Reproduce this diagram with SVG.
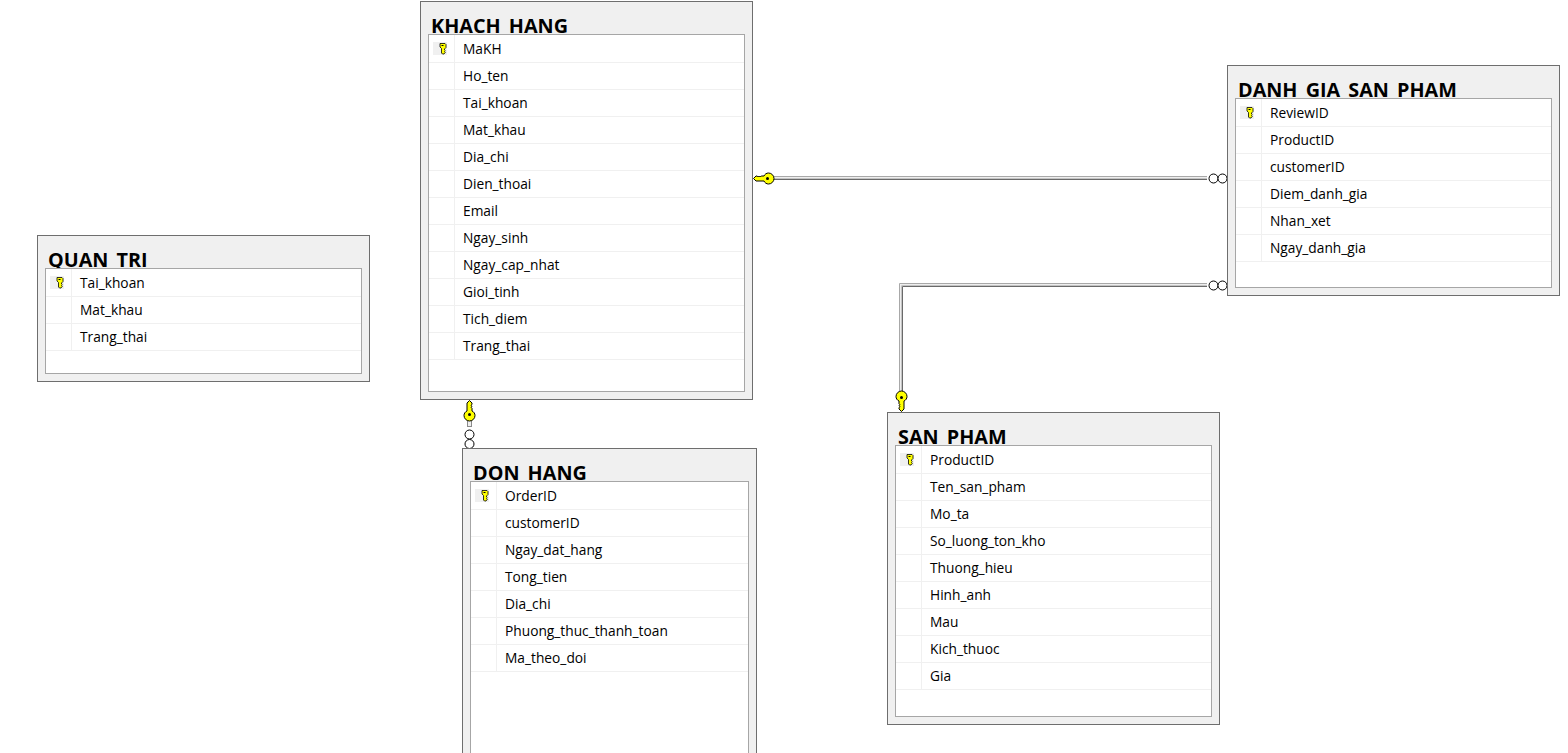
<svg xmlns="http://www.w3.org/2000/svg" width="1568" height="753" viewBox="0 0 1568 753">
<style>
.outer{fill:#f0f0f0;stroke:#6e6e6e;stroke-width:1}
.inner{fill:#fff;stroke:#a6a6a6;stroke-width:1}
.title{font:bold 19.800px "Open Sans","Noto Sans",sans-serif;fill:#000}
.row{font:13.750px "Open Sans","Noto Sans",sans-serif;fill:#000}
.grid{stroke:#f0f0f0;stroke-width:1;fill:none}
.sel{fill:#f0f0f0}
.ring{fill:#fff;stroke:#000;stroke-width:1}
.l1{stroke:#a8a8a8;fill:none}.l2{stroke:#eeeeee;fill:none}.l3{stroke:#c4c4c4;fill:none}.l4{stroke:#6a6a6a;fill:none}
.bigkey{fill:#ffff00;stroke:#000;stroke-width:1}
.smallkey{fill:#ffff00;stroke:#000;stroke-width:.8}
</style>
<defs>
<g id="pk"><path class="smallkey" d="M-2.500-5.500h5l1 1v3l-1.500 1.500v1l.8.700-.8.800.8.800-1.300 1.700h-1.500l-1-1v-4.500l-1.500-1.500v-3z"/><path d="M-1-4h2v1h-2z" fill="#000"/></g>
<g id="fk"><path class="bigkey" d="M-2.500-4.500V-11.500L0-14l2.500 2.500v1.200l-1 1 1 1-1 1 1 1v2.800c1.800.8 3 2.500 3 4.500 0 3-2.500 5.500-5.500 5.500s-5.500-2.500-5.500-5.500c0-2 1.200-3.700 3-4.500z"/><circle r="1.500" fill="#000"/></g>
</defs>
<rect width="1568" height="753" fill="#fff"/>
<g id="connectors">
<g id="conn-khach-danhgia">
<path class="l1" d="M772 176.500H1207"/><path class="l2" d="M772 177.500H1207"/><path class="l3" d="M772 178.500H1207"/><path class="l4" d="M772 179.500H1207"/>
<circle class="ring" cx="1213.500" cy="178.500" r="4.500"/><circle class="ring" cx="1222.500" cy="178.500" r="4.500"/>
<use href="#fk" transform="translate(767.500 178.500) rotate(-90)"/>
</g>
<g id="conn-sanpham-danhgia">
<path class="l1" d="M899.500 392V283.500H1207"/><path class="l2" d="M900.500 392V284.500H1207"/><path class="l3" d="M901.500 392V285.500H1207"/><path class="l4" d="M902.500 392V286.500H1207"/>
<circle class="ring" cx="1213.500" cy="285.500" r="4.500"/><circle class="ring" cx="1222.500" cy="285.500" r="4.500"/>
<use href="#fk" transform="translate(901.500 397.500) rotate(180)"/>
</g>
<g id="conn-khach-donhang">
<rect x="467.500" y="420.500" width="4" height="6" fill="#eee" stroke="#8a8a8a"/>
<circle class="ring" cx="469.500" cy="434.500" r="4.500"/><circle class="ring" cx="469.500" cy="444" r="4.500"/>
<use href="#fk" transform="translate(469.500 414.500)"/>
</g>
</g>
<g id="quan-tri">
<rect class="outer" x="37.500" y="235.500" width="332" height="146"/>
<text class="title" x="48" y="267">QUAN_TRI</text>
<rect class="inner" x="45.500" y="268.500" width="316" height="105"/>
<path class="grid" d="M46 296.500H361M46 323.500H361M46 350.500H361M71.500 269V350"/>
<rect class="sel" x="50" y="276" width="14" height="13"/>
<use href="#pk" x="59.500" y="283"/>
<text class="row" x="80" y="288">Tai_khoan</text>
<text class="row" x="80" y="315">Mat_khau</text>
<text class="row" x="80" y="342">Trang_thai</text>
</g>
<g id="khach-hang">
<rect class="outer" x="420.500" y="1.500" width="332" height="398"/>
<text class="title" x="431" y="33">KHACH_HANG</text>
<rect class="inner" x="428.500" y="34.500" width="316" height="357"/>
<path class="grid" d="M429 62.500H744M429 89.500H744M429 116.500H744M429 143.500H744M429 170.500H744M429 197.500H744M429 224.500H744M429 251.500H744M429 278.500H744M429 305.500H744M429 332.500H744M429 359.500H744M454.500 35V359"/>
<rect class="sel" x="433" y="42" width="14" height="13"/>
<use href="#pk" x="442.500" y="49"/>
<text class="row" x="463" y="54">MaKH</text>
<text class="row" x="463" y="81">Ho_ten</text>
<text class="row" x="463" y="108">Tai_khoan</text>
<text class="row" x="463" y="135">Mat_khau</text>
<text class="row" x="463" y="162">Dia_chi</text>
<text class="row" x="463" y="189">Dien_thoai</text>
<text class="row" x="463" y="216">Email</text>
<text class="row" x="463" y="243">Ngay_sinh</text>
<text class="row" x="463" y="270">Ngay_cap_nhat</text>
<text class="row" x="463" y="297">Gioi_tinh</text>
<text class="row" x="463" y="324">Tich_diem</text>
<text class="row" x="463" y="351">Trang_thai</text>
</g>
<g id="don-hang">
<rect class="outer" x="462.500" y="448.500" width="294" height="320"/>
<text class="title" x="473" y="480">DON_HANG</text>
<rect class="inner" x="470.500" y="481.500" width="278" height="290"/>
<path class="grid" d="M471 509.500H748M471 536.500H748M471 563.500H748M471 590.500H748M471 617.500H748M471 644.500H748M471 671.500H748M496.500 482V671"/>
<rect class="sel" x="475" y="489" width="14" height="13"/>
<use href="#pk" x="484.500" y="496"/>
<text class="row" x="505" y="501">OrderID</text>
<text class="row" x="505" y="528">customerID</text>
<text class="row" x="505" y="555">Ngay_dat_hang</text>
<text class="row" x="505" y="582">Tong_tien</text>
<text class="row" x="505" y="609">Dia_chi</text>
<text class="row" x="505" y="636">Phuong_thuc_thanh_toan</text>
<text class="row" x="505" y="663">Ma_theo_doi</text>
</g>
<g id="san-pham">
<rect class="outer" x="887.500" y="412.500" width="332" height="312"/>
<text class="title" x="898" y="444">SAN_PHAM</text>
<rect class="inner" x="895.500" y="445.500" width="316" height="271"/>
<path class="grid" d="M896 473.500H1211M896 500.500H1211M896 527.500H1211M896 554.500H1211M896 581.500H1211M896 608.500H1211M896 635.500H1211M896 662.500H1211M896 689.500H1211M921.500 446V689"/>
<rect class="sel" x="900" y="453" width="14" height="13"/>
<use href="#pk" x="909.500" y="460"/>
<text class="row" x="930" y="465">ProductID</text>
<text class="row" x="930" y="492">Ten_san_pham</text>
<text class="row" x="930" y="519">Mo_ta</text>
<text class="row" x="930" y="546">So_luong_ton_kho</text>
<text class="row" x="930" y="573">Thuong_hieu</text>
<text class="row" x="930" y="600">Hinh_anh</text>
<text class="row" x="930" y="627">Mau</text>
<text class="row" x="930" y="654">Kich_thuoc</text>
<text class="row" x="930" y="681">Gia</text>
</g>
<g id="danh-gia-san-pham">
<rect class="outer" x="1227.500" y="65.500" width="332" height="230"/>
<text class="title" x="1238" y="97">DANH_GIA_SAN_PHAM</text>
<rect class="inner" x="1235.500" y="98.500" width="316" height="189"/>
<path class="grid" d="M1236 126.500H1551M1236 153.500H1551M1236 180.500H1551M1236 207.500H1551M1236 234.500H1551M1236 261.500H1551M1261.500 99V261"/>
<rect class="sel" x="1240" y="106" width="14" height="13"/>
<use href="#pk" x="1249.500" y="113"/>
<text class="row" x="1270" y="118">ReviewID</text>
<text class="row" x="1270" y="145">ProductID</text>
<text class="row" x="1270" y="172">customerID</text>
<text class="row" x="1270" y="199">Diem_danh_gia</text>
<text class="row" x="1270" y="226">Nhan_xet</text>
<text class="row" x="1270" y="253">Ngay_danh_gia</text>
</g>
</svg>
